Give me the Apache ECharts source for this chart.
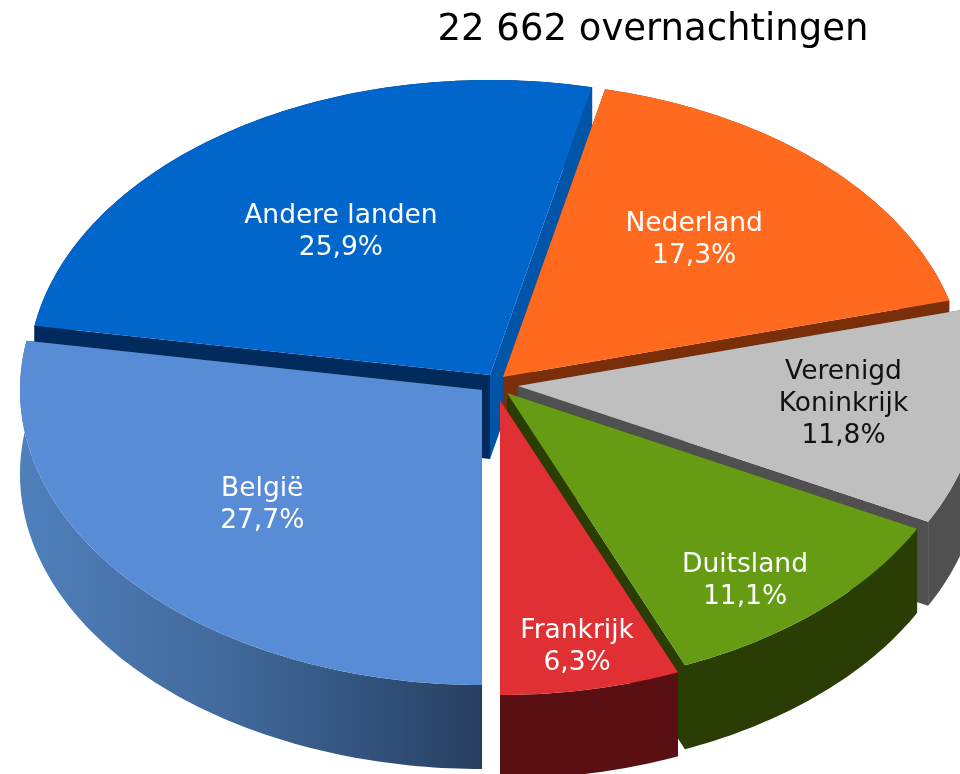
<!DOCTYPE html>
<html>
<head>
<meta charset="utf-8">
<style>html,body{margin:0;padding:0;background:#fff;overflow:hidden}#c{width:960px;height:774px}</style>
<script src="https://cdn.jsdelivr.net/npm/echarts@6/dist/echarts.min.js"></script>
</head>
<body>
<div id="c"></div>
<script>
// Data, clockwise from the 6 o'clock position
const categories = ['Frankrijk', 'Duitsland', 'Verenigd\nKoninkrijk', 'Nederland', 'Andere landen', 'België'];
const shares = [6.3, 11.1, 11.8, 17.3, 25.9, 27.7];
const shareLabels = ['6,3%', '11,1%', '11,8%', '17,3%', '25,9%', '27,7%'];
const titleText = '22 662 overnachtingen';

// Styling
const topColors = ['#E03034', '#669C14', '#BFBFBF', '#FF6A1F', '#0066CC', '#588CD6'];
const wallColors = ['#5A1012', '#2A3D05', '#505050', '#7A2E0A', '#0055A8', '#2B4A70'];
const backWallColors = ['#5A1012', '#2A3D05', '#505050', '#7A2E0A', '#002B5C', '#2B4A70'];
const labelColors = ['#fff', '#fff', '#111', '#fff', '#fff', '#fff'];

// Pie layout: exploded offsets, label radius (fraction of the radius) and nudges, paint order
const cx = 497, cy = 385, rx = 462, ry = 295, depth = 84;
const offsetX = [3, 10, 21, 6, -7, -15];
const offsetY = [15, 8, 1, -8, -10, 5];
const labelRadius = [0.85, 0.78, 0.70, 0.60, 0.58, 0.60];
const labelNudgeX = [0, -6, 4, -1, 0, -8];
const labelNudgeY = [1, 19, -4, -9, -1, 1];
const paintOrder = [4, 3, 2, 1, 5, 0];

const total = shares.reduce((a, b) => a + b, 0);
const startAngles = [];
shares.reduce((acc, v, i) => { startAngles[i] = acc; return acc + v; }, 0);

const D2R = Math.PI / 180;
function angleAt(cum) { return 90 - cum / total * 360; }

function renderItem(params, api) {
  const i = api.value(0), v = api.value(1);
  const a0 = angleAt(startAngles[i]), a1 = angleAt(startAngles[i] + v);
  const ax = cx + offsetX[i], ay = cy + offsetY[i];
  const arc = [];
  const steps = Math.ceil(Math.abs(a1 - a0));
  for (let s = 0; s <= steps; s++) {
    const t = (a0 + (a1 - a0) * s / steps) * D2R;
    arc.push([ax + rx * Math.cos(t), ay + ry * Math.sin(t)]);
  }
  const down = p => [p[0], p[1] + depth];
  const first = arc[0], last = arc[arc.length - 1];
  const apex = [ax, ay];
  const children = [];
  const wall = (pts, fill) => children.push({ type: 'polygon', shape: { points: pts }, style: { fill: fill } });

  const outerFill = i === 5
    ? new echarts.graphic.LinearGradient(0, 0, 1, 0, [
        { offset: 0, color: '#4F80BC' }, { offset: 0.45, color: '#41699B' },
        { offset: 0.8, color: '#304F78' }, { offset: 1, color: '#263F60' }])
    : backWallColors[i];
  wall(arc.concat(arc.map(down).reverse()), outerFill);
  wall([apex, last, down(last), down(apex)], backWallColors[i]);
  wall([apex, first, down(first), down(apex)], wallColors[i]);
  wall([apex].concat(arc), topColors[i]);

  const mid = (a0 + a1) / 2 * D2R;
  children.push({
    type: 'text',
    style: {
      text: categories[i] + '\n' + shareLabels[i],
      x: ax + rx * labelRadius[i] * Math.cos(mid) + labelNudgeX[i],
      y: ay + ry * labelRadius[i] * Math.sin(mid) + labelNudgeY[i],
      align: 'center', verticalAlign: 'middle',
      fontFamily: 'DejaVu Sans', fontSize: 26.5, lineHeight: 32,
      fill: labelColors[i]
    }
  });
  return { type: 'group', children: children };
}

const chart = echarts.init(document.getElementById('c'), null, { renderer: 'canvas', width: 960, height: 774 });
chart.setOption({
  animation: false,
  backgroundColor: '#fff',
  title: {
    text: titleText, left: 648, top: 7, textAlign: 'center',
    textStyle: { fontFamily: 'DejaVu Sans', fontSize: 37, fontWeight: 'normal', color: '#000' }
  },
  series: [{
    type: 'custom',
    coordinateSystem: 'none',
    renderItem: renderItem,
    clip: false,
    data: paintOrder.map(i => [i, shares[i]])
  }]
});
</script>
</body>
</html>
